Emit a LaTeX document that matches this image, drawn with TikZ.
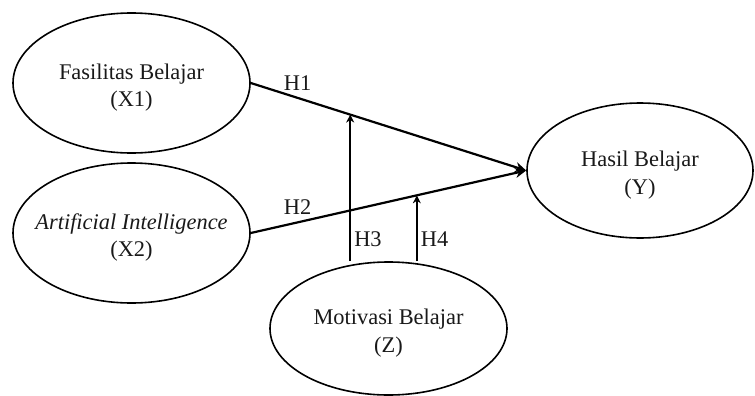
\documentclass[tikz,border=0pt]{standalone}
\usepackage{fontspec}
\setmainfont{Liberation Serif}
\usetikzlibrary{shapes.geometric, arrows.meta, positioning}
\tikzset{
  varellipse/.style={
    ellipse, draw, line width=0.8pt, inner xsep=-8pt, inner ysep=0pt, align=center,
    font=\fontsize{11.2}{13.8}\selectfont, text=black!90, text height=26pt,
    minimum width=118.5pt, minimum height=70pt
  },
  patharrow/.style={-{Stealth[length=5.5pt, width=5pt]}, line width=1.1pt},
  modarrow/.style={-{Stealth[length=4pt, width=4pt]}, line width=1.1pt},
  hyplabel/.style={font=\fontsize{11.2}{13.8}\selectfont, text=black!90},
}

\begin{document}
\begin{tikzpicture}[x=0.5pt, y=-0.5pt]
  \useasboundingbox (0,0) rectangle (755,396);

  % --- Variables ---
  \node[varellipse] (x1) at (131.5, 83) {Fasilitas Belajar\\(X1)};
  \node[varellipse] (x2) at (131.5, 233) {\textit{Artificial Intelligence}\\(X2)};
  \node[varellipse, minimum width=113pt, minimum height=67.5pt] (y) at (640, 170.5)
    {Hasil Belajar\\(Y)};
  \node[varellipse, minimum height=66.5pt] (z) at (388.5, 328.5)
    {Motivasi Belajar\\(Z)};

  % --- Direct paths ---
  \draw[patharrow] (x1.east) -- node[pos=0.17, above, hyplabel] {H1}
    coordinate[pos=0.361] (m1) (y.west);
  \draw[patharrow] (x2.east) -- node[pos=0.17, above, hyplabel] {H2}
    coordinate[pos=0.603] (m2) (y.west);

  % --- Moderation paths ---
  \draw[modarrow] (m1 |- z.north) -- node[pos=0.15, right, hyplabel, inner sep=1.5pt] {H3} (m1);
  \draw[modarrow] (m2 |- z.north) -- node[pos=0.34, right, hyplabel, inner sep=1.5pt] {H4} (m2);
\end{tikzpicture}
\end{document}
